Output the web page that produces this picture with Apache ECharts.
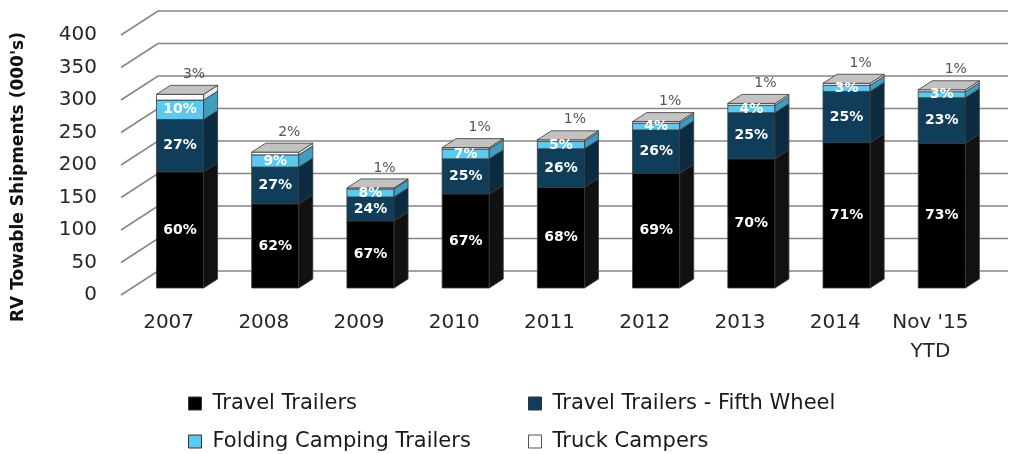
<!DOCTYPE html>
<html>
<head>
<meta charset="utf-8">
<script src="https://cdn.jsdelivr.net/npm/echarts@6/dist/echarts.min.js"></script>
<style>
  html, body { margin: 0; padding: 0; background: #ffffff; }
  #chart { width: 1015px; height: 454px; }
</style>
</head>
<body>
<div id="chart"></div>
<script>
// Towable RV shipments (thousands) and the share of each towable type
const categories = ['2007', '2008', '2009', '2010', '2011', '2012', '2013', '2014', "Nov '15\nYTD"];
const totals = [298, 209, 154, 216, 228, 256, 284, 315, 305];
const pctTravel = [60, 62, 67, 67, 68, 69, 70, 71, 73];
const pctFifth = [27, 27, 24, 25, 26, 26, 25, 25, 23];
const pctFolding = [10, 9, 8, 7, 5, 4, 4, 3, 3];
const pctTruck = [3, 2, 1, 1, 1, 1, 1, 1, 1];
const yTicks = [0, 50, 100, 150, 200, 250, 300, 350, 400];

const FONT = 'DejaVu Sans';
// pseudo-3D geometry (pixels)
const DEPTH_X = 14, DEPTH_Y = -9;     // column depth
const WALL_X = 37, WALL_Y = -24;      // back wall offset
const FLOOR_LIFT = 7;                 // columns stand slightly behind the front edge
const BAR_SHIFT = 0.12, BAR_WIDTH = 0.495;
const WALL_RIGHT = 1008;

const segments = [
  { name: 'Travel Trailers', pct: pctTravel, front: '#000000', side: '#111111' },
  { name: 'Travel Trailers - Fifth Wheel', pct: pctFifth, front: '#0f3d5a', side: '#0a2b40' },
  { name: 'Folding Camping Trailers', pct: pctFolding, front: '#5ccaf0', side: '#3f9dc2' },
  { name: 'Truck Campers', pct: pctTruck, front: '#ffffff', side: '#e8e8e8', top: true }
];

function segmentRenderer(def) {
  return function (params, api) {
    const i = api.value(0), lo = api.value(1), hi = api.value(2), pct = api.value(3);
    const band = api.size([1, 0])[0];
    const pLo = api.coord([i, lo]);
    const pHi = api.coord([i, hi]);
    const w = band * BAR_WIDTH;
    const cx = pLo[0] + band * BAR_SHIFT;
    const xL = cx - w / 2, xR = cx + w / 2;
    const yB = pLo[1] - FLOOR_LIFT, yT = pHi[1] - FLOOR_LIFT;
    const edge = { stroke: '#3a3a3a', lineWidth: 0.8 };
    const children = [
      { type: 'rect', shape: { x: xL, y: yT, width: w, height: yB - yT },
        style: Object.assign({ fill: def.front }, edge) },
      { type: 'polygon',
        shape: { points: [[xR, yB], [xR + DEPTH_X, yB + DEPTH_Y], [xR + DEPTH_X, yT + DEPTH_Y], [xR, yT]] },
        style: Object.assign({ fill: def.side }, edge) }
    ];
    if (def.top) {
      children.push({ type: 'polygon',
        shape: { points: [[xL, yT], [xR, yT], [xR + DEPTH_X, yT + DEPTH_Y], [xL + DEPTH_X, yT + DEPTH_Y]] },
        style: Object.assign({ fill: '#c2c2c2' }, edge) });
      children.push({ type: 'text', z2: 100,
        style: { x: cx + 14, y: yT - 20, text: pct + '%', fill: '#555555',
                 font: '14px "' + FONT + '"', align: 'center', verticalAlign: 'middle' } });
    } else {
      children.push({ type: 'text', z2: 100,
        style: { x: cx, y: (yT + yB) / 2, text: pct + '%', fill: '#ffffff',
                 font: 'bold 14px "' + FONT + '"', align: 'center', verticalAlign: 'middle' } });
    }
    return { type: 'group', children: children };
  };
}

// stack the shares of each year's total
const cumulative = totals.map(() => 0);
const barSeries = segments.map(function (def) {
  const data = categories.map(function (c, i) {
    const lo = totals[i] * cumulative[i] / 100;
    cumulative[i] += def.pct[i];
    const hi = totals[i] * cumulative[i] / 100;
    return [i, lo, hi, def.pct[i]];
  });
  return {
    type: 'custom', name: def.name, z: 3,
    itemStyle: { color: def.front, borderColor: '#444', borderWidth: 1 },
    encode: { x: 0, y: [1, 2] },
    data: data,
    renderItem: segmentRenderer(def)
  };
});

const wallSeries = {
  type: 'custom', z: 1, silent: true,
  encode: { x: 0, y: 1 },
  data: yTicks.map(v => [0, v]),
  renderItem: function (params, api) {
    const y = api.coord([0, api.value(1)])[1];
    const x0 = params.coordSys.x;
    return { type: 'polyline',
      shape: { points: [[x0, y], [x0 + WALL_X, y + WALL_Y], [WALL_RIGHT, y + WALL_Y]] },
      style: { stroke: '#868686', lineWidth: 1.6, fill: null } };
  }
};

// one legend box per entry, laid out in two rows of two
const legendSlots = [[183, 388], [523, 388], [183, 426], [523, 426]];
const legendOrder = [0, 1, 2, 3];
const legends = legendOrder.map(function (si, k) {
  const def = segments[si];
  return {
    left: legendSlots[k][0], top: legendSlots[k][1],
    itemWidth: 13, itemHeight: 13, icon: 'rect',
    textStyle: { fontFamily: FONT, fontSize: 21, color: '#1a1a1a', padding: [0, 0, 0, 6] },
    data: [{ name: def.name,
             itemStyle: { color: def.front, borderColor: def.top ? '#555' : '#333', borderWidth: 1 } }]
  };
});

const chart = echarts.init(document.getElementById('chart'));
chart.setOption({
  animation: false,
  backgroundColor: '#ffffff',
  grid: { left: 121, right: 37, top: 35, bottom: 159 },
  xAxis: {
    type: 'category', data: categories,
    axisLine: { show: false }, axisTick: { show: false },
    axisLabel: { interval: 0, fontFamily: FONT, fontSize: 20, color: '#262626', margin: 13, lineHeight: 29 }
  },
  yAxis: {
    type: 'value', min: 0, max: 400, interval: 50,
    axisLine: { show: false }, axisTick: { show: false }, splitLine: { show: false },
    axisLabel: { fontFamily: FONT, fontSize: 20, color: '#262626', margin: 24 }
  },
  legend: legends,
  graphic: [{
    type: 'text', x: 19, y: 177, rotation: Math.PI / 2,
    style: { text: "RV Towable Shipments (000's)", font: 'bold 17px "' + FONT + '"',
             fill: '#111111', align: 'center', verticalAlign: 'middle' }
  }],
  series: [wallSeries].concat(barSeries)
});
</script>
</body>
</html>
